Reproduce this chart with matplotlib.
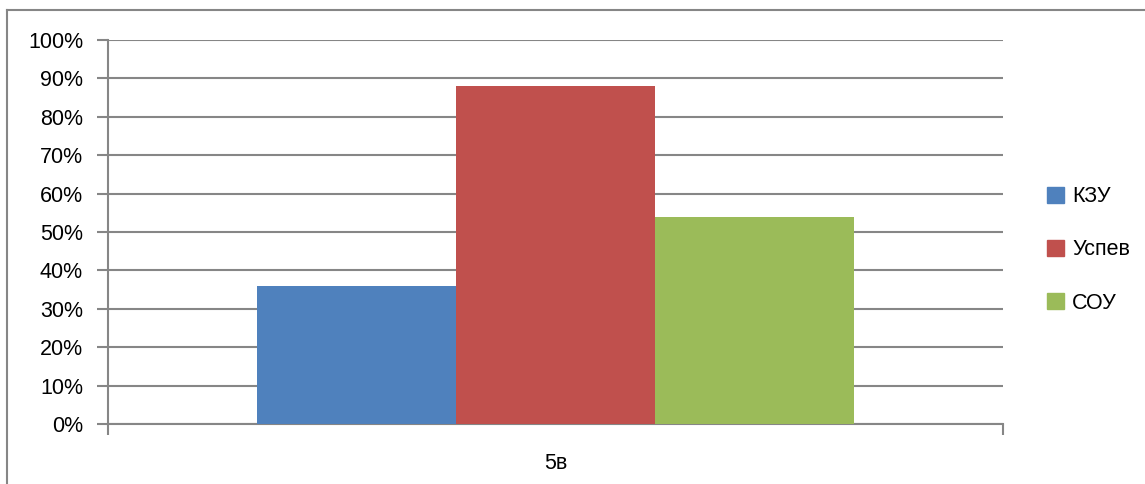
import matplotlib.pyplot as plt
from matplotlib.lines import Line2D
from matplotlib.patches import Patch

categories = ["5в"]
series = ["КЗУ", "Успев", "СОУ"]
values = [0.36, 0.88, 0.54]
colors = ["#4F81BD", "#C0504D", "#9BBB59"]
yticks = [i / 10 for i in range(11)]
ytick_labels = [f"{i * 10}%" for i in range(11)]

plt.rcParams["font.family"] = ["Liberation Sans", "DejaVu Sans"]
grey = "#868686"

fig = plt.figure(figsize=(11.45, 4.84), dpi=100)
ax = fig.add_axes([108 / 1145, 1 - 424 / 484, 895 / 1145, 384 / 484])

width = 199 / 895
for k, (name, v, c) in enumerate(zip(series, values, colors)):
    ax.bar(0 + (k - 1) * width, v, width=width, color=c, label=name, zorder=3)

ax.set_xlim(-0.5, 0.5)
ax.set_ylim(0, 1)
ax.set_yticks(yticks)
ax.set_yticklabels(ytick_labels, fontsize=15.5)
ax.yaxis.grid(True, color=grey, linewidth=1.5)
ax.tick_params(axis="y", length=8, width=1.5, color=grey, pad=10)

# category label, ticks at category edges
ax.set_xticks([-0.5, 0.5])
ax.set_xticklabels(["", ""])
ax.tick_params(axis="x", length=8, width=1.5, color=grey)
ax.text(0, -0.075, categories[0], transform=ax.get_xaxis_transform(),
        ha="center", va="top", fontsize=15.5)

for s in ["top", "right"]:
    ax.spines[s].set_visible(False)
for s in ["left", "bottom"]:
    ax.spines[s].set_color(grey)
    ax.spines[s].set_linewidth(1.5)

handles = [Patch(color=c) for c in colors]
fig.legend(handles, series, loc="center left", bbox_to_anchor=(1028 / 1145, 1 - 250 / 484),
           frameon=False, fontsize=15.5, handlelength=0.75, handleheight=0.75,
           handletextpad=0.4, labelspacing=1.5)

# outer chart border
fig.add_artist(Line2D([7 / 1145, 7 / 1145], [0, 1 - 10 / 484], color=grey, linewidth=1.5))
fig.add_artist(Line2D([7 / 1145, 1], [1 - 10 / 484, 1 - 10 / 484], color=grey, linewidth=1.5))

fig.savefig("out.png", dpi=100)
